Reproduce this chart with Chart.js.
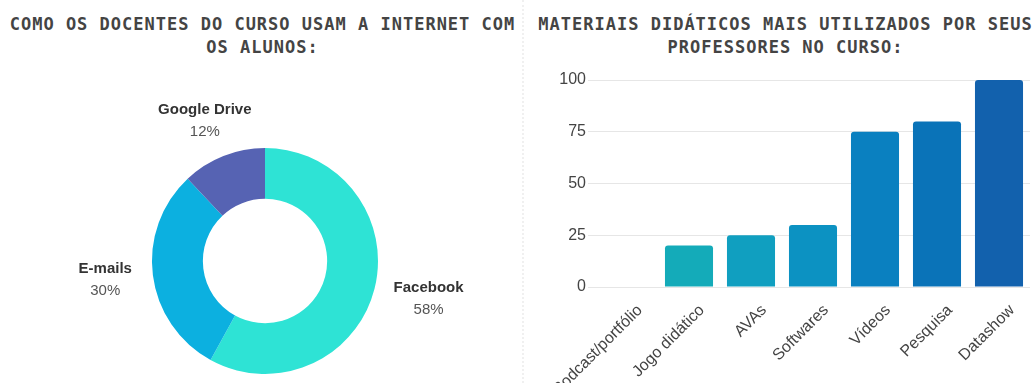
<!DOCTYPE html>
<html>
<head>
<meta charset="utf-8">
<script src="https://cdn.jsdelivr.net/npm/chart.js@4/dist/chart.umd.min.js"></script>
<style>
  body { margin: 0; width: 1036px; height: 383px; overflow: hidden; background: #fff; position: relative; }
  .title { position: absolute; top: 13px; text-align: center; font-family: "DejaVu Sans Mono", monospace; font-weight: bold;
           font-size: 17px; letter-spacing: 1px; line-height: 23px; color: #444; }
  #divider { position: absolute; left: 522px; top: 0; height: 383px; border-left: 2px dotted #f0f0f0; }
  #pieWrap { position: absolute; left: 0; top: 0; width: 522px; height: 383px; }
  #barWrap { position: absolute; left: 525px; top: 60px; width: 511px; height: 323px; }
</style>
</head>
<body>
<div class="title" style="left:0;width:525px">COMO OS DOCENTES DO CURSO USAM A INTERNET COM<br>OS ALUNOS:</div>
<div class="title" style="left:530px;width:511px">MATERIAIS DIDÁTICOS MAIS UTILIZADOS POR SEUS<br>PROFESSORES NO CURSO:</div>
<div id="divider"></div>
<div id="pieWrap"><canvas id="pieChart"></canvas></div>
<div id="barWrap"><canvas id="barChart"></canvas></div>
<script>
// Donut: how teachers use the internet
const usoLabels = ['Facebook', 'E-mails', 'Google Drive'];
const usoValues = [58, 30, 12];
const usoColors = ['#2ee3d5', '#0cb0e0', '#5663b3'];

// Bars: didactic materials
const matLabels = ['Podcast/portfólio', 'Jogo didático', 'AVAs', 'Softwares', 'Vídeos', 'Pesquisa', 'Datashow'];
const matValues = [0, 20, 25, 30, 75, 80, 100];
const matColors = ['#16b4bc', '#14abb9', '#109fc0', '#0c92c2', '#0a80c0', '#0a73b8', '#1261ad'];
const yTicks = [0, 25, 50, 75, 100];

Chart.defaults.font.family = '"Liberation Sans", Arial, sans-serif';
Chart.defaults.color = '#444';

// labels outside the donut, placed on an ellipse around the mid angle
const outsideLabels = {
  id: 'outsideLabels',
  afterDatasetsDraw(chart) {
    const ctx = chart.ctx;
    const meta = chart.getDatasetMeta(0);
    const total = usoValues.reduce((a, b) => a + b, 0);
    meta.data.forEach((arc, i) => {
      const mid = (arc.startAngle + arc.endAngle) / 2;
      const rx = arc.outerRadius + 52 + 4 * Math.cos(mid), ry = arc.outerRadius + 38;
      const x = arc.x + rx * Math.cos(mid);
      const y = arc.y + ry * Math.sin(mid);
      ctx.save();
      ctx.textAlign = 'center';
      ctx.textBaseline = 'middle';
      ctx.fillStyle = '#333';
      ctx.font = 'bold 15px "Liberation Sans", Arial, sans-serif';
      ctx.fillText(usoLabels[i], x, y - 11);
      ctx.fillStyle = '#555';
      ctx.font = '15px "Liberation Sans", Arial, sans-serif';
      ctx.fillText(Math.round(usoValues[i] / total * 100) + '%', x, y + 11);
      ctx.restore();
    });
  }
};

new Chart(document.getElementById('pieChart'), {
  type: 'doughnut',
  data: {
    labels: usoLabels,
    datasets: [{ data: usoValues, backgroundColor: usoColors, borderWidth: 0 }]
  },
  options: {
    responsive: true,
    maintainAspectRatio: false,
    animation: false,
    cutout: '55%',
    layout: { padding: { left: 152, right: 144, top: 148, bottom: 9 } },
    plugins: { legend: { display: false }, tooltip: { enabled: false } }
  },
  plugins: [outsideLabels]
});

new Chart(document.getElementById('barChart'), {
  type: 'bar',
  data: {
    labels: matLabels,
    datasets: [{
      data: matValues,
      backgroundColor: matColors,
      borderRadius: 3,
      borderSkipped: 'start',
      barPercentage: 0.775,
      categoryPercentage: 1
    }]
  },
  options: {
    responsive: true,
    maintainAspectRatio: false,
    animation: false,
    layout: { padding: { top: 20, right: 6, left: 0, bottom: 0 } },
    plugins: { legend: { display: false }, tooltip: { enabled: false } },
    scales: {
      x: {
        grid: { display: false },
        border: { display: false },
        ticks: { minRotation: 45, maxRotation: 45, labelOffset: 13, padding: 6, font: { size: 16 }, color: '#444' },
        afterFit(scale) { scale.height = 96; scale.paddingLeft = 0; scale.paddingRight = 0; }
      },
      y: {
        min: 0,
        max: 100,
        afterBuildTicks(scale) { scale.ticks = yTicks.map(v => ({ value: v })); },
        grid: { color: '#e6e6e6' },
        border: { display: false },
        ticks: { padding: 2, font: { size: 16 }, color: '#444' },
        afterFit(scale) { scale.width = 71; }
      }
    }
  }
});
</script>
</body>
</html>
